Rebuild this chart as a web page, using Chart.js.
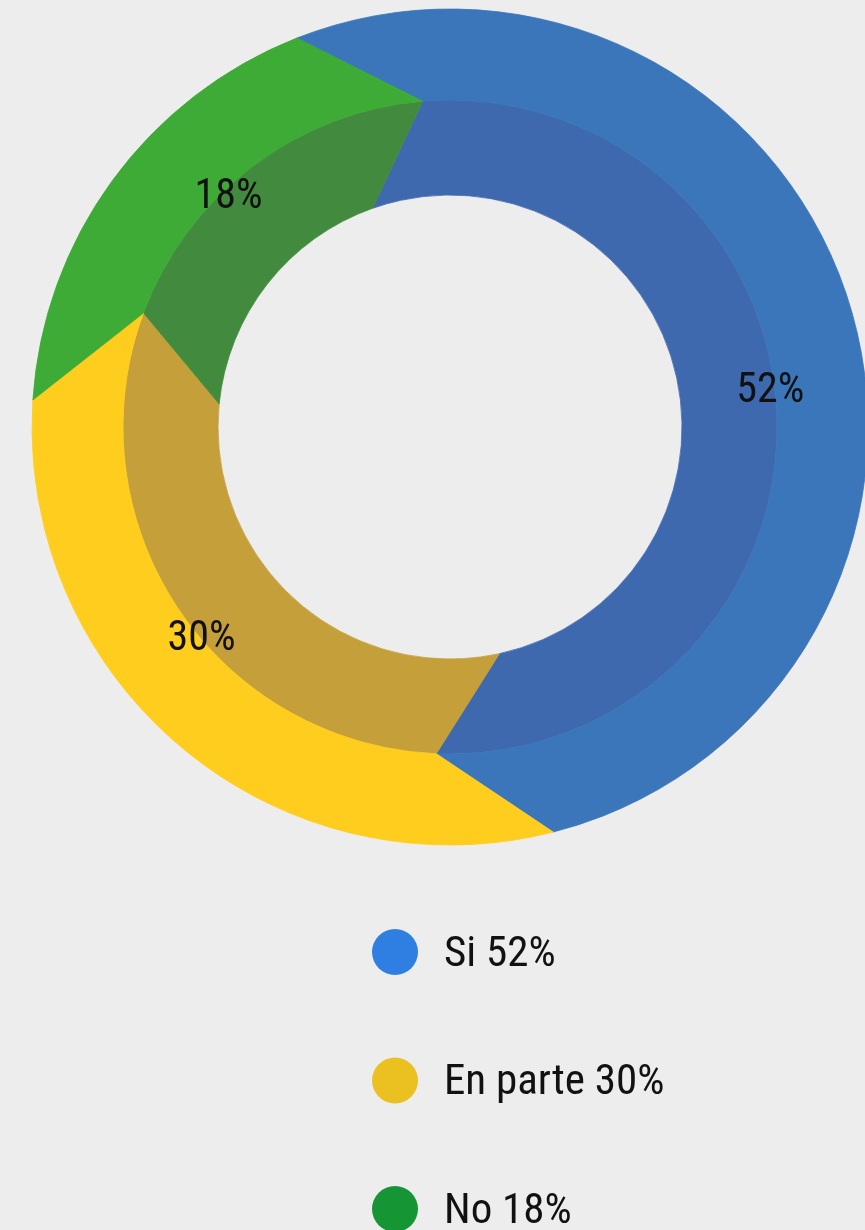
<!DOCTYPE html>
<html>
<head>
<meta charset="utf-8">
<script src="https://cdn.jsdelivr.net/npm/chart.js@4/dist/chart.umd.min.js"></script>
<style>
  html, body { margin: 0; padding: 0; background: #EDEDED; overflow: hidden; }
  #wrap { position: relative; width: 900px; height: 1230px; }
</style>
</head>
<body>
<div id="wrap"><canvas id="c"></canvas></div>
<script>
// ---- data ----
const categories = ['Si', 'En parte', 'No'];
const values = [52, 30, 18];
const outerColors = ['#3B76BA', '#FFCD1D', '#3DAB35'];
const innerColors = ['#3E69AE', '#C49F3A', '#428B3E'];
const legendColors = ['#2E7FE1', '#EBC021', '#169535'];

// ---- style ----
const FONT = '"Liberation Sans Narrow", "Arial Narrow", "Roboto Condensed", "DejaVu Sans Condensed", sans-serif';
const ROT_OUTER = -21.5;   // rotation of the outer edge of the outer ring
const SKEW_OUTER = 16.7;   // angular shift from outer edge to inner edge of outer ring
const SKEW_INNER = -14.7;  // angular shift across the inner ring

const skewArcs = {
  id: 'skewArcs',
  beforeDatasetDraw(chart, args) {
    const ds = chart.data.datasets[args.index];
    const skew = (ds.edgeSkew || 0) * Math.PI / 180;
    const ctx = chart.ctx;
    ctx.save();
    args.meta.data.forEach(arc => {
      const p = arc.getProps(['x', 'y', 'startAngle', 'endAngle', 'innerRadius', 'outerRadius'], true);
      ctx.beginPath();
      ctx.arc(p.x, p.y, p.outerRadius, p.startAngle, p.endAngle);
      ctx.arc(p.x, p.y, p.innerRadius, p.endAngle + skew, p.startAngle + skew, true);
      ctx.closePath();
      ctx.fillStyle = arc.options.backgroundColor;
      ctx.strokeStyle = arc.options.backgroundColor;
      ctx.lineWidth = 0.8;
      ctx.lineJoin = 'round';
      ctx.fill();
      ctx.stroke();
    });
    ctx.restore();
    return false;
  }
};

const sliceLabels = {
  id: 'sliceLabels',
  afterDatasetsDraw(chart) {
    const meta = chart.getDatasetMeta(1);
    const skew = (chart.data.datasets[1].edgeSkew || 0) * Math.PI / 180;
    const ctx = chart.ctx;
    ctx.save();
    ctx.font = '42px ' + FONT;
    ctx.fillStyle = '#111';
    ctx.textAlign = 'center';
    ctx.textBaseline = 'middle';
    meta.data.forEach((arc, i) => {
      const p = arc.getProps(['x', 'y', 'startAngle', 'endAngle', 'innerRadius', 'outerRadius'], true);
      const midOuter = (p.startAngle + p.endAngle) / 2;
      const midInner = midOuter + skew;
      const ang = (midOuter * p.outerRadius + midInner * p.innerRadius) / (p.outerRadius + p.innerRadius);
      const r = p.outerRadius - 4;
      ctx.fillText(values[i] + '%', p.x + r * Math.cos(ang), p.y + r * Math.sin(ang) + 6);
    });
    ctx.restore();
  }
};

const sideLegend = {
  id: 'sideLegend',
  afterDraw(chart) {
    const ctx = chart.ctx;
    const x0 = 395, y0 = 952, step = 128.5, dotR = 23, textX = 444;
    ctx.save();
    ctx.font = '43px ' + FONT;
    ctx.textAlign = 'left';
    ctx.textBaseline = 'middle';
    chart.data.labels.forEach((lab, i) => {
      const y = y0 + i * step;
      ctx.beginPath();
      ctx.arc(x0, y, dotR, 0, Math.PI * 2);
      ctx.fillStyle = legendColors[i];
      ctx.fill();
      ctx.fillStyle = '#111';
      ctx.fillText(lab + ' ' + values[i] + '%', textX, y + 3);
    });
    ctx.restore();
  }
};

new Chart(document.getElementById('c'), {
  type: 'doughnut',
  data: {
    labels: categories,
    datasets: [
      { data: values, backgroundColor: outerColors, rotation: ROT_OUTER, edgeSkew: SKEW_OUTER, weight: 91,
        borderWidth: 0, hoverBorderWidth: 0, hoverOffset: 0 },
      { data: values, backgroundColor: innerColors, rotation: ROT_OUTER + SKEW_OUTER, edgeSkew: SKEW_INNER, weight: 95,
        borderWidth: 0, hoverBorderWidth: 0, hoverOffset: 0 }
    ]
  },
  options: {
    responsive: true,
    maintainAspectRatio: false,
    animation: false,
    events: [],
    cutout: '55.5%',
    layout: { padding: { left: 32, top: 9, right: 32, bottom: 385 } },
    plugins: {
      legend: { display: false },
      tooltip: { enabled: false }
    }
  },
  plugins: [skewArcs, sliceLabels, sideLegend]
});
</script>
</body>
</html>
